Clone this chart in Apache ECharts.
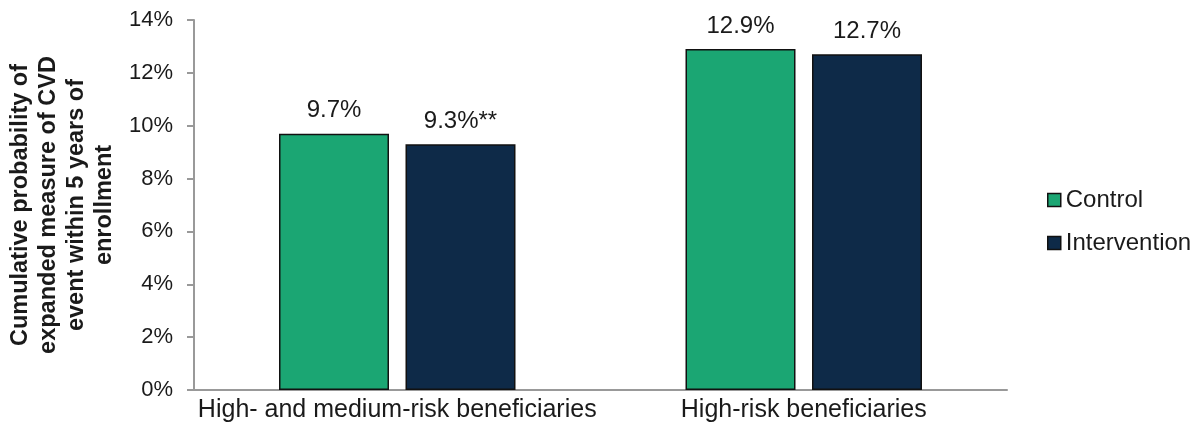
<!DOCTYPE html>
<html>
<head>
<meta charset="utf-8">
<script src="https://cdn.jsdelivr.net/npm/echarts@6/dist/echarts.min.js"></script>
<style>html,body{margin:0;padding:0;background:#fff;}#c{width:1195px;height:430px;}</style>
</head>
<body>
<div id="c"></div>
<script>
var categories = ['High- and medium-risk beneficiaries', 'High-risk beneficiaries'];
var controlValues = [9.7, 12.9];
var interventionValues = [9.3, 12.7];
var controlLabels = ['9.7%', '12.9%'];
var interventionLabels = ['9.3%**', '12.7%'];
var yTicks = [0, 2, 4, 6, 8, 10, 12, 14];

var font = 'Liberation Sans, Arial, sans-serif';
var chart = echarts.init(document.getElementById('c'));
function lbl(arr) {
  return {
    show: true, position: 'top', distance: 11,
    formatter: function (p) { return arr[p.dataIndex]; },
    fontFamily: font, fontSize: 24, color: '#1a1a1a'
  };
}
chart.setOption({
  animation: false,
  grid: { left: 194, right: 188, top: 20, bottom: 40, outerBoundsMode: 'none', containLabel: false },
  legend: {
    orient: 'vertical', left: 1042, top: 183, itemGap: 19,
    itemWidth: 13, itemHeight: 13, icon: 'rect',
    itemStyle: { borderColor: '#111', borderWidth: 1.5 },
    textStyle: { fontFamily: font, fontSize: 24, color: '#1a1a1a' },
    data: ['Control', 'Intervention']
  },
  xAxis: {
    type: 'category', data: categories,
    axisLine: { lineStyle: { color: '#999', width: 2 } },
    axisTick: { show: false },
    axisLabel: { fontFamily: font, fontSize: 25, color: '#1a1a1a', margin: 8, interval: 0, hideOverlap: false }
  },
  yAxis: {
    type: 'value', min: 0, max: 14, interval: 2,
    name: 'Cumulative probability of\nexpanded measure of CVD\nevent within 5 years of\nenrollment',
    nameLocation: 'middle', nameRotate: 90, nameGap: 75,
    nameTextStyle: { fontFamily: font, fontSize: 23.5, fontWeight: 'bold', color: '#1a1a1a', lineHeight: 28 },
    axisLine: { show: true, lineStyle: { color: '#999', width: 2 } },
    axisTick: { show: true, length: 7, lineStyle: { color: '#999', width: 2 } },
    splitLine: { show: false },
    axisLabel: {
      fontFamily: font, fontSize: 22, color: '#1a1a1a', margin: 21,
      formatter: function (v) { return yTicks.indexOf(v) >= 0 ? v + '%' : ''; }
    }
  },
  series: [
    {
      name: 'Control', type: 'bar', data: controlValues, barWidth: 110, barGap: '15%',
      itemStyle: { color: '#1ba673', borderColor: '#111', borderWidth: 1.5 },
      label: lbl(controlLabels)
    },
    {
      name: 'Intervention', type: 'bar', data: interventionValues, barWidth: 110,
      itemStyle: { color: '#0e2a48', borderColor: '#111', borderWidth: 1.5 },
      label: lbl(interventionLabels)
    }
  ]
});
</script>
</body>
</html>
